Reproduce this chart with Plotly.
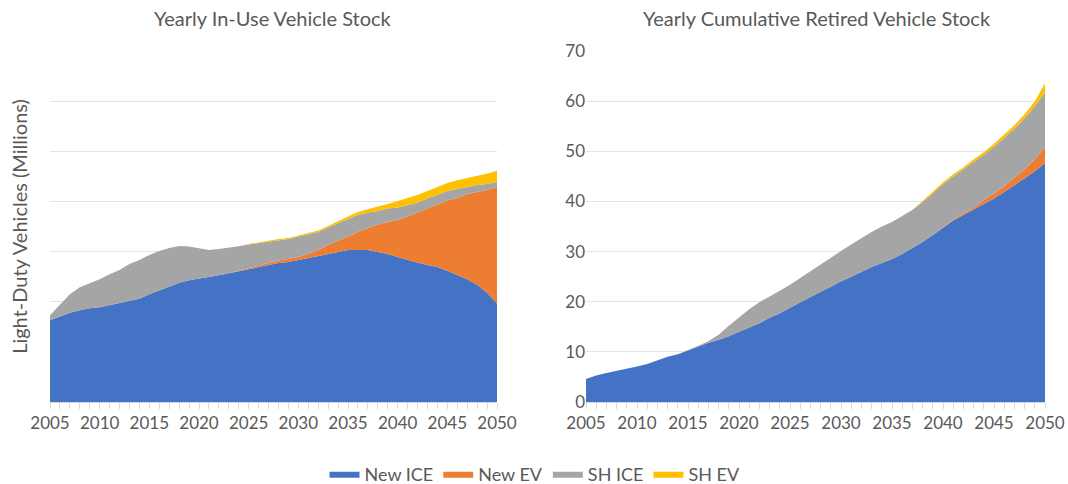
import plotly.graph_objects as go

years = list(range(2005, 2051))

# Left: Yearly In-Use Vehicle Stock (millions)
inuse_new_ice = [16.3, 17.1, 17.8, 18.3, 18.7, 18.9, 19.3, 19.7, 20.2, 20.6,
                 21.5, 22.3, 23.1, 23.8, 24.3, 24.6, 24.9, 25.3, 25.7, 26.1,
                 26.6, 27.0, 27.4, 27.7, 27.9, 28.3, 28.7, 29.1, 29.5, 29.9,
                 30.3, 30.3, 30.3, 29.9, 29.5, 28.9, 28.3, 27.8, 27.3, 26.9,
                 26.2, 25.4, 24.5, 23.4, 21.8, 19.7]
inuse_new_ev = [0, 0, 0, 0, 0, 0, 0, 0, 0, 0,
                0, 0, 0, 0, 0, 0, 0, 0, 0, 0.05,
                0.1, 0.2, 0.3, 0.5, 0.6, 0.6, 0.8, 1.2, 1.8, 2.2,
                2.7, 3.6, 4.4, 5.5, 6.4, 7.4, 8.7, 10.0, 11.3, 12.5,
                14.0, 15.3, 17.0, 18.5, 20.5, 23.2]
inuse_sh_ice = [1.0, 2.4, 3.7, 4.6, 5.0, 5.6, 6.2, 6.6, 7.3, 7.7,
                7.8, 7.8, 7.6, 7.3, 6.7, 6.0, 5.4, 5.2, 5.0, 4.9,
                4.7, 4.5, 4.3, 4.1, 4.0, 4.1, 3.9, 3.6, 3.5, 3.6,
                3.5, 3.4, 3.1, 2.7, 2.7, 2.5, 2.3, 2.0, 2.0, 2.0,
                1.9, 1.8, 1.4, 1.4, 1.2, 1.0]
inuse_sh_ev = [0, 0, 0, 0, 0, 0, 0, 0, 0, 0,
               0, 0, 0, 0, 0, 0, 0, 0, 0, 0,
               0.1, 0.15, 0.15, 0.2, 0.2, 0.2, 0.2, 0.3, 0.3, 0.4,
               0.5, 0.6, 0.7, 0.9, 0.9, 1.3, 1.3, 1.5, 1.5, 1.5,
               1.6, 1.7, 1.8, 1.8, 2.0, 2.2]

# Right: Yearly Cumulative Retired Vehicle Stock (millions)
ret_new_ice = [4.6, 5.3, 5.8, 6.2, 6.6, 7.1, 7.6, 8.3, 9.0, 9.5,
               10.3, 11.1, 11.8, 12.4, 13.1, 14.0, 14.9, 15.7, 16.8, 17.7,
               18.8, 19.9, 20.9, 22.0, 23.0, 24.1, 25.0, 26.0, 26.9, 27.7,
               28.5, 29.5, 30.7, 31.9, 33.3, 34.7, 36.2, 37.3, 38.4, 39.6,
               40.6, 41.9, 43.2, 44.6, 46.0, 47.6]
ret_new_ev = [0] * 35 + [0.1, 0.2, 0.3, 0.4, 0.7, 1.0, 1.2, 1.5, 1.8, 2.4, 3.2]
ret_sh_ice = [0, 0, 0, 0, 0, 0, 0, 0, 0, 0,
              0, 0.1, 0.3, 1.0, 2.1, 2.9, 3.6, 4.2, 4.2, 4.5,
              4.6, 4.9, 5.2, 5.4, 5.8, 6.0, 6.4, 6.7, 7.0, 7.3,
              7.4, 7.6, 7.6, 8.0, 8.3, 8.7, 8.6, 8.8, 9.1, 9.0,
              9.3, 9.6, 9.8, 10.2, 10.6, 10.9]
ret_sh_ev = [0] * 32 + [0.05, 0.2, 0.3, 0.3, 0.4, 0.4, 0.5, 0.5, 0.6, 0.6, 0.7, 0.8, 1.0, 1.8]

series_names = ["New ICE", "New EV", "SH ICE", "SH EV"]
colors = ["#4472C4", "#ED7D31", "#A5A5A5", "#FFC000"]

FONT = "Lato, Open Sans, sans-serif"
GREY = "#595959"

fig = go.Figure()
left = [inuse_new_ice, inuse_new_ev, inuse_sh_ice, inuse_sh_ev]
right = [ret_new_ice, ret_new_ev, ret_sh_ice, ret_sh_ev]
for name, col, vals in zip(series_names, colors, left):
    fig.add_trace(go.Scatter(x=years, y=vals, name=name, stackgroup="a",
                             mode="lines", line=dict(width=0, color=col),
                             fillcolor=col, xaxis="x", yaxis="y",
                             showlegend=True))
for name, col, vals in zip(series_names, colors, right):
    fig.add_trace(go.Scatter(x=years, y=vals, name=name, stackgroup="b",
                             mode="lines", line=dict(width=0, color=col),
                             fillcolor=col, xaxis="x2", yaxis="y2",
                             showlegend=False))

tickfont = dict(family=FONT, size=17, color=GREY)
xcommon = dict(range=[2005, 2050], tick0=2005, dtick=5, ticks="outside",
               ticklen=6, tickcolor="#D9D9D9", showline=True,
               linecolor="#D9D9D9", showgrid=False, zeroline=False,
               tickfont=tickfont, automargin=False,
               minor=dict(dtick=1, ticks="outside", ticklen=6, tickcolor="#D9D9D9"))
ycommon = dict(range=[0, 70], dtick=10, showgrid=True, gridcolor="#E4E4E4",
               zeroline=False, tickfont=tickfont, ticks="", automargin=False)

L, R, T, B = 50, 23, 51, 82
W, H = 1068, 484
plot_w = W - L - R
plot_h = H - T - B

def px_x(px):
    return (px - L) / plot_w

def px_y(py):
    return (H - B - py) / plot_h

fig.update_layout(
    width=W, height=H,
    margin=dict(l=L, r=R, t=T, b=B, autoexpand=False),
    paper_bgcolor="white", plot_bgcolor="white",
    font=dict(family=FONT, color=GREY),
    xaxis=dict(domain=[0, px_x(497)], **xcommon),
    yaxis=dict(showticklabels=False,
               title=dict(text="Light-Duty Vehicles (Millions)",
                          font=dict(size=20, color=GREY), standoff=16),
               **ycommon),
    xaxis2=dict(domain=[px_x(586), 1], anchor="y2", **xcommon),
    yaxis2=dict(anchor="x2", showticklabels=True, **ycommon),
    legend=dict(orientation="h", x=px_x(535), xanchor="center",
                y=px_y(474), yanchor="middle",
                font=dict(size=18, color=GREY, family=FONT),
                traceorder="normal", itemwidth=30),
    showlegend=True,
)
fig.add_annotation(text="Yearly In-Use Vehicle Stock", x=px_x(273), y=px_y(18),
                   xref="paper", yref="paper", showarrow=False,
                   font=dict(size=20, color=GREY, family=FONT),
                   xanchor="center", yanchor="middle")
fig.add_annotation(text="Yearly Cumulative Retired Vehicle Stock", x=px_x(817), y=px_y(18),
                   xref="paper", yref="paper", showarrow=False,
                   font=dict(size=20, color=GREY, family=FONT),
                   xanchor="center", yanchor="middle")

fig.write_html("out.html", config={"displayModeBar": False},
               post_script="document.body.style.margin='0px';")
